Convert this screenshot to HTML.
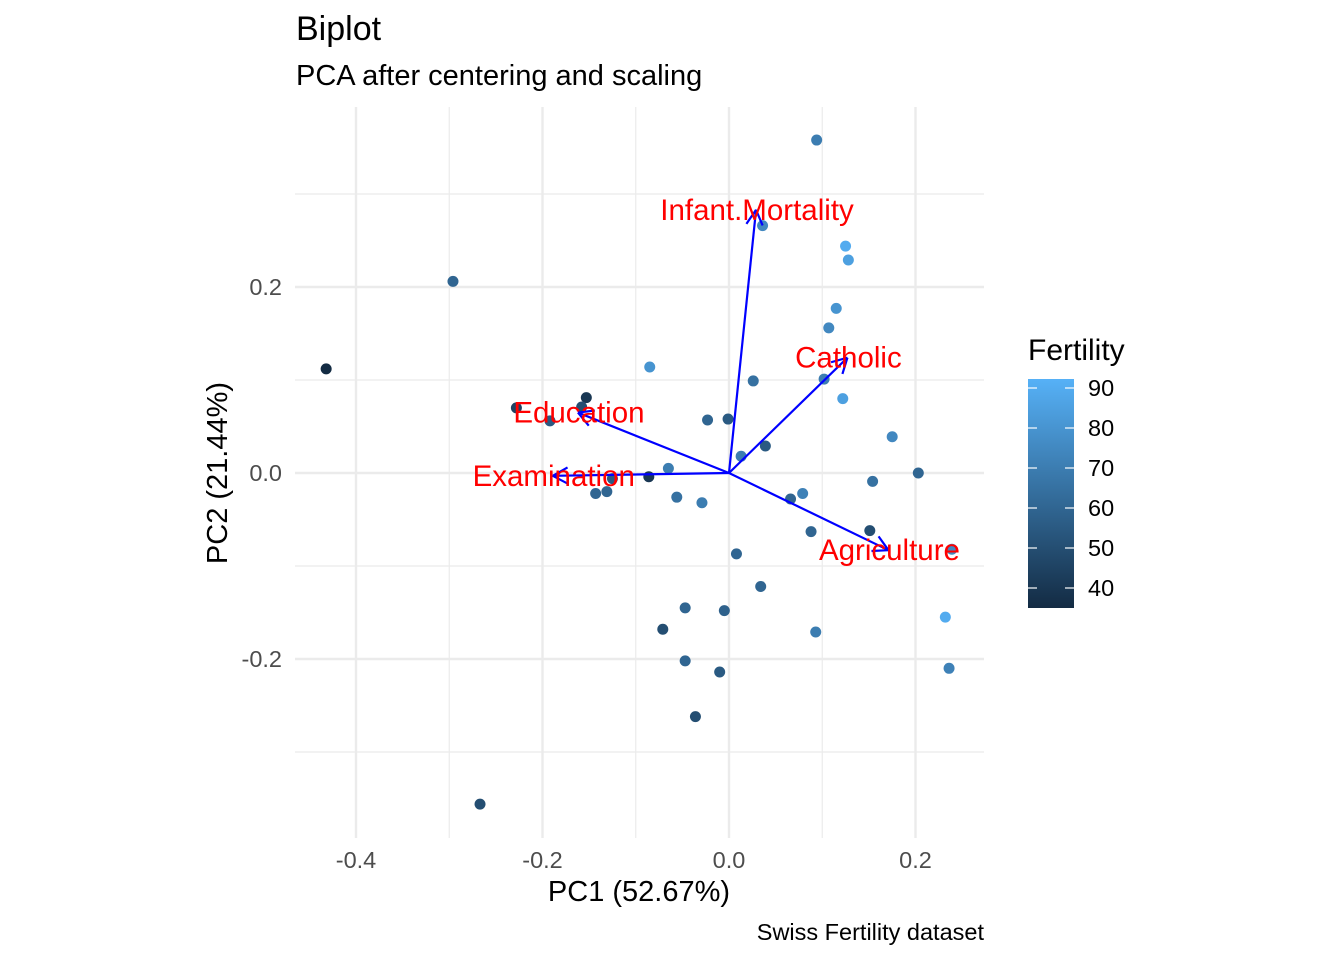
<!DOCTYPE html>
<html><head><meta charset="utf-8"><style>
body{margin:0;background:#fff;font-family:"Liberation Sans",sans-serif}
svg text{font-family:"Liberation Sans",sans-serif}
</style></head><body>
<svg id="chart" width="1344" height="960">
<defs><linearGradient id="cg" x1="0" y1="1" x2="0" y2="0"><stop offset="0" stop-color="#132B43"/><stop offset="1" stop-color="#56B1F7"/></linearGradient></defs>
<text x="296" y="40" font-size="34" fill="#000">Biplot</text>
<text x="296" y="85" font-size="29" fill="#000">PCA after centering and scaling</text>
<g id="grid"></g><g id="points"></g><g id="arrows"></g><g id="axes"></g>
<text x="639" y="901" font-size="29" text-anchor="middle">PC1 (52.67%)</text>
<text transform="translate(227,473) rotate(-90)" font-size="29" text-anchor="middle">PC2 (21.44%)</text>
<text x="984" y="940" font-size="23.5" text-anchor="end">Swiss Fertility dataset</text>
<g>
<text x="1028" y="360" font-size="30">Fertility</text>
<rect x="1028" y="379" width="46" height="229" fill="url(#cg)"/>
<g id="legticks"></g>
</g>
</svg>
<script>
const px=[0.094,-0.296,-0.432,0.036,0.125,0.128,0.115,0.107,-0.085,0.026,0.102,0.122,-0.153,-0.228,-0.158,-0.192,-0.023,-0.001,0.175,0.013,0.039,0.203,-0.065,-0.086,-0.125,0.154,-0.143,-0.131,-0.056,-0.029,0.066,0.079,0.088,0.151,0.239,0.008,0.034,0.232,-0.047,-0.005,-0.071,0.093,-0.047,-0.010,0.236,-0.036,-0.267];
const py=[0.358,0.206,0.112,0.266,0.244,0.229,0.177,0.156,0.114,0.099,0.101,0.080,0.081,0.070,0.071,0.056,0.057,0.058,0.039,0.018,0.029,0.000,0.005,-0.004,-0.006,-0.009,-0.022,-0.020,-0.026,-0.032,-0.028,-0.022,-0.063,-0.062,-0.082,-0.087,-0.122,-0.155,-0.145,-0.148,-0.168,-0.171,-0.202,-0.214,-0.210,-0.262,-0.356];
const fert=[70,60,35,75,90,85,80,75,80,65,70,85,40,45,50,55,60,55,75,70,55,60,70,40,55,65,60,60,65,70,60,72,60,50,75,60,60,90,60,58,50,70,60,55,72,50,50];
const vars=["Infant.Mortality","Catholic","Education","Examination","Agriculture"];
const vx=[0.029,0.127,-0.162,-0.189,0.171];
const vy=[0.283,0.124,0.065,-0.003,-0.083];
const xTicks=[-0.4,-0.2,0.0,0.2];
const yTicks=[-0.2,0.0,0.2];
const legTicks=[40,50,60,70,80,90];
const NS="http://www.w3.org/2000/svg";
const X=v=>729+v*932.5, Y=v=>473-v*930;
const L0=295,L1=984,T0=107,T1=838;
function mk(t,a,p){const e=document.createElementNS(NS,t);for(const k in a)e.setAttribute(k,a[k]);p.appendChild(e);return e;}
const g=document.getElementById('grid');
[-0.3,-0.1,0.1].forEach(v=>{const l=mk('line',{x1:X(v),x2:X(v),y1:T0,y2:T1,stroke:'#ebebeb','stroke-width':1.2},g);});
[-0.3,-0.1,0.1,0.3].forEach(v=>{const l=mk('line',{x1:L0,x2:L1,y1:Y(v),y2:Y(v),stroke:'#ebebeb','stroke-width':1.2},g);});
const ax=document.getElementById('axes');
xTicks.forEach(v=>{const l=mk('line',{x1:X(v),x2:X(v),y1:T0,y2:T1,stroke:'#ebebeb','stroke-width':2.4},g);
const t=mk('text',{x:X(v),y:868,'font-size':23.5,fill:'#4d4d4d','text-anchor':'middle'},ax);t.textContent=v.toFixed(1);});
yTicks.forEach(v=>{const l=mk('line',{x1:L0,x2:L1,y1:Y(v),y2:Y(v),stroke:'#ebebeb','stroke-width':2.4},g);
const t=mk('text',{x:282,y:Y(v)+8,'font-size':23.5,fill:'#4d4d4d','text-anchor':'end'},ax);t.textContent=v.toFixed(1);});
function col(f){const t=(f-35)/(92.5-35);const a=[0x13,0x2B,0x43],b=[0x56,0xB1,0xF7];return 'rgb('+a.map((c,i)=>Math.round(c+(b[i]-c)*t)).join(',')+')';}
const pg=document.getElementById('points');
px.forEach((v,i)=>{const c=mk('circle',{cx:X(v),cy:Y(py[i]),r:5.5,fill:col(fert[i])},pg);});
const ag=document.getElementById('arrows');
vars.forEach((n,i)=>{const x2=X(vx[i]),y2=Y(vy[i]);const l=mk('line',{x1:X(0),y1:Y(0),x2:x2,y2:y2,stroke:'#0000ff','stroke-width':2.2},ag);
const ang=Math.atan2(y2-Y(0),x2-X(0));let d='';[0.5,-0.5].forEach(s=>{const a=ang+Math.PI+s;d+='M'+(x2+17*Math.cos(a))+' '+(y2+17*Math.sin(a))+'L'+x2+' '+y2;});
const h=mk('path',{d:d,stroke:'#0000ff','stroke-width':2.2,fill:'none'},ag);});
vars.forEach((n,i)=>{const t=mk('text',{x:X(vx[i])+1,y:Y(vy[i])+10,'font-size':29.5,fill:'#ff0000','text-anchor':'middle'},ag);t.textContent=n;});
const lg=document.getElementById('legticks');
legTicks.forEach(v=>{const y=608-(v-35)*4;mk('line',{x1:1028,x2:1037,y1:y,y2:y,stroke:'#fff','stroke-width':1.2},lg);mk('line',{x1:1065,x2:1074,y1:y,y2:y,stroke:'#fff','stroke-width':1.2},lg);
const t=mk('text',{x:1088,y:y+8,'font-size':23.5,fill:'#000'},lg);t.textContent=v;});
</script>
</body></html>
